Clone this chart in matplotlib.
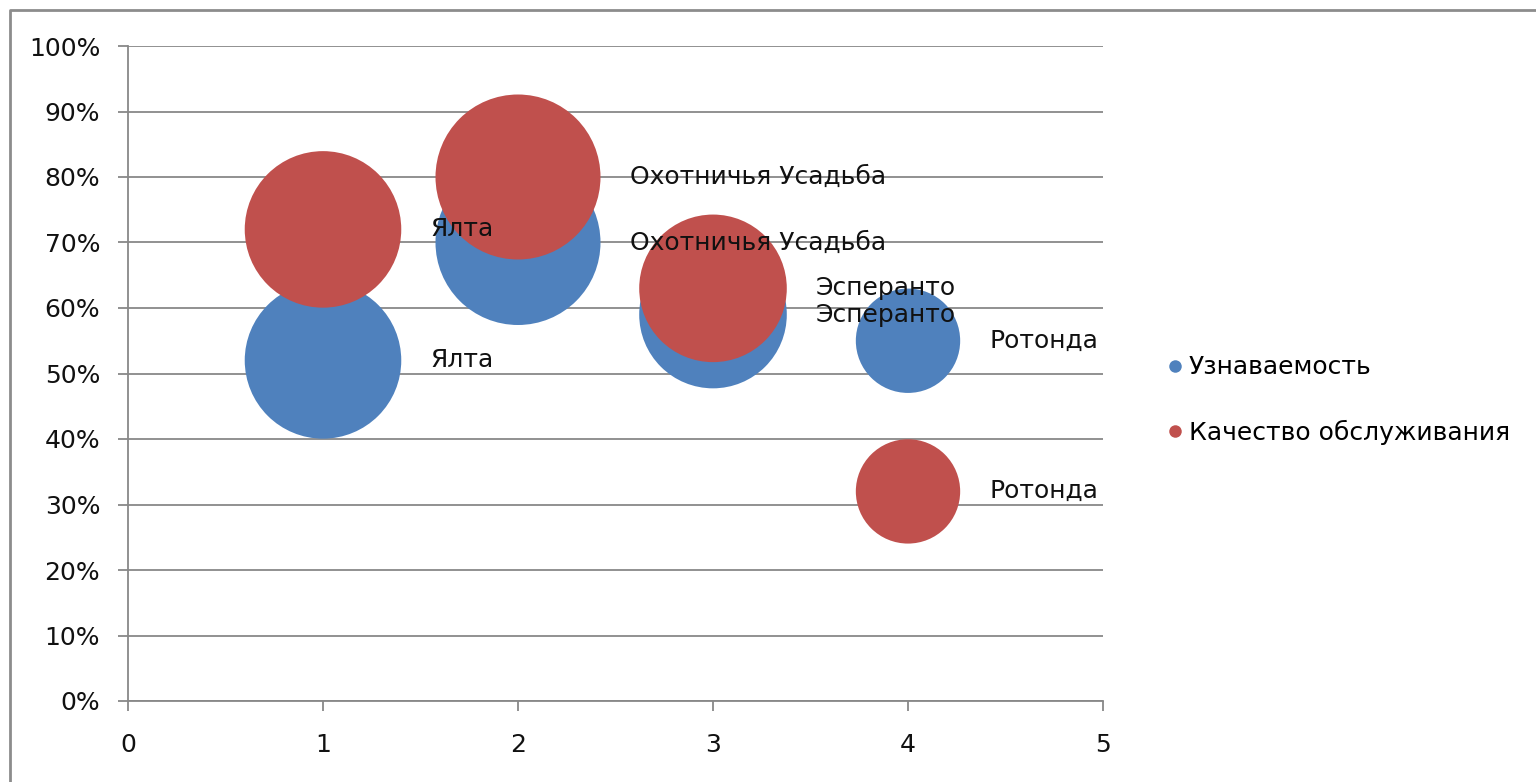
import numpy as np
import matplotlib.pyplot as plt
from matplotlib.lines import Line2D
from matplotlib.ticker import PercentFormatter

# Data
names = ['Ялта', 'Охотничья Усадьба', 'Эсперанто', 'Ротонда']
x_pos = [1, 2, 3, 4]
awareness = [0.52, 0.70, 0.59, 0.55]
service = [0.72, 0.80, 0.63, 0.32]
bubble_size = [9, 10, 8, 4]
series_names = ['Узнаваемость', 'Качество обслуживания']
colors = {'Узнаваемость': '#4F81BD', 'Качество обслуживания': '#C0504D'}

grid_color = '#888888'
font_size = 18
plt.rcParams['font.family'] = ['DejaVu Sans']

fig = plt.figure(figsize=(15.36, 7.82), dpi=100)
ax = fig.add_axes([128 / 1536, 81 / 782, 975 / 1536, 655 / 782])

# size scale: biggest bubble about 165 px across
scale = (165 * 72 / 100) ** 2 / max(bubble_size)
sizes = [v * scale for v in bubble_size]

for name, values in zip(series_names, [awareness, service]):
    ax.scatter(x_pos, values, s=sizes, color=colors[name], edgecolors='none',
               zorder=3, clip_on=False)
    for xi, yi, si, label in zip(x_pos, values, sizes, names):
        offset = np.sqrt(si) / 2 + 21
        ax.annotate(label, (xi, yi), xytext=(offset, 0), textcoords='offset points',
                    ha='left', va='center', fontsize=font_size, color='#111111', zorder=4)

ax.set_xlim(0, 5)
ax.set_ylim(0, 1)
ax.set_xticks(range(6))
ax.set_yticks(np.arange(0, 1.01, 0.1))
ax.yaxis.set_major_formatter(PercentFormatter(1.0, decimals=0))
ax.grid(axis='y', color=grid_color, linewidth=1.3, zorder=0)
ax.set_axisbelow(True)

for side in ['top', 'right']:
    ax.spines[side].set_visible(False)
for side in ['left', 'bottom']:
    ax.spines[side].set_color(grid_color)
    ax.spines[side].set_linewidth(1.3)

ax.tick_params(axis='y', length=7, width=1.3, color=grid_color, pad=13,
               labelsize=font_size, labelcolor='#111111')
ax.tick_params(axis='x', length=7, width=1.3, color=grid_color, pad=16,
               labelsize=font_size, labelcolor='#111111')

# Legend
handles = [Line2D([], [], marker='o', linestyle='none', markersize=9,
                  markerfacecolor=colors[n], markeredgecolor='none', label=n)
           for n in series_names]
fig.legend(handles=handles, loc='center left', bbox_to_anchor=(1150 / 1536, 1 - 400 / 782),
           frameon=False, fontsize=font_size, handletextpad=0.05, labelspacing=1.6,
           handlelength=1.0, borderpad=0)

# Outer chart border (top and left edges visible)
fig.add_artist(Line2D([10 / 1536, 10 / 1536, 1.0], [0.0, 1 - 10 / 782, 1 - 10 / 782],
                      transform=fig.transFigure, color='#8c8c8c', linewidth=2))

fig.savefig('out.png', dpi=100)
